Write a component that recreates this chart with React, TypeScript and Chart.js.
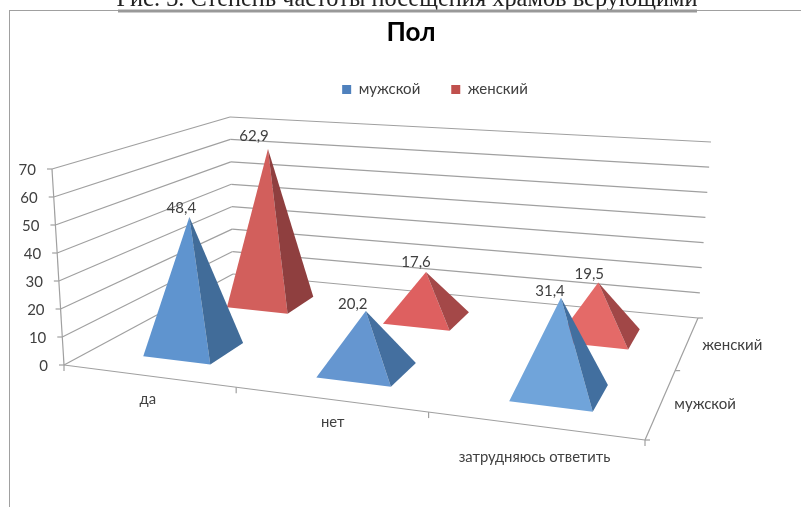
import React, { useEffect, useRef } from "react";
import { Chart, registerables } from "chart.js";

Chart.register(...registerables);

const caption = "Рис. 3. Степень частоты посещения храмов верующими";
const chartTitle = "Пол";
const categories = ["да", "нет", "затрудняюсь ответить"];
const seriesNames = ["мужской", "женский"];
const male = [48.4, 20.2, 31.4];
const female = [62.9, 17.6, 19.5];

const FONT = "Lato, 'Noto Sans', sans-serif";
const TEXT = "#404040";
const LINE = "#a0a0a0";
const legendColors = ["#4f81bd", "#c0504d"];
const frontFaces = [
  ["#5f94cf", "#6596d0", "#70a4da"],
  ["#d25f5c", "#de6060", "#e46a68"],
];
const sideFaces = [
  ["#416c99", "#446f9f", "#426f9f"],
  ["#8f3f3f", "#a44848", "#a14747"],
];
const labelOffsets = [
  [{ x: -8, y: -9 }, { x: -13, y: -7 }, { x: -11, y: -7 }],
  [{ x: -14, y: -13 }, { x: -10, y: -10 }, { x: -9, y: -8 }],
];
const catOffsets = [{ x: 0, y: 23 }, { x: 3, y: 23 }, { x: 1, y: 32 }];
const seriesOffsets = [{ x: 44, y: 1 }, { x: 45, y: 3 }];

type P = { x: number; y: number };
type Q = [P, P, P, P];

// Corners of the box's floor and ceiling, in order: front-left, front-right, back-right, back-left
const floor: Q = [
  { x: 64, y: 365 },
  { x: 645, y: 440 },
  { x: 698, y: 318 },
  { x: 233, y: 274 },
];
const ceiling: Q = [
  { x: 52, y: 169 },
  { x: 659, y: 213 },
  { x: 711, y: 142 },
  { x: 230, y: 117 },
];

function homography([p0, p1, p2, p3]: Q) {
  const dx1 = p1.x - p2.x, dx2 = p3.x - p2.x, sx = p0.x - p1.x + p2.x - p3.x;
  const dy1 = p1.y - p2.y, dy2 = p3.y - p2.y, sy = p0.y - p1.y + p2.y - p3.y;
  const den = dx1 * dy2 - dx2 * dy1;
  const g = (sx * dy2 - dx2 * sy) / den;
  const h = (dx1 * sy - sx * dy1) / den;
  const a = p1.x - p0.x + g * p1.x, b = p3.x - p0.x + h * p3.x, c = p0.x;
  const d = p1.y - p0.y + g * p1.y, e = p3.y - p0.y + h * p3.y, f = p0.y;
  return (u: number, v: number): P => {
    const w = g * u + h * v + 1;
    return { x: (a * u + b * v + c) / w, y: (d * u + e * v + f) / w };
  };
}
const floorMap = homography(floor);
const ceilMap = homography(ceiling);
// u, v, w are each fractions 0..1 of the x, depth and value scales
const project = (u: number, v: number, w: number): P => {
  const a = floorMap(u, v), b = ceilMap(u, v);
  return { x: a.x + (b.x - a.x) * w, y: a.y + (b.y - a.y) * w };
};

// Half sizes of a pyramid's base and the small shift of its centre, as fractions of the floor
const BASE_U = 0.2 / 3;
const BASE_V = 0.0985;
const SHIFT_U = 0.006;
const SHIFT_V = -0.0165;

const pyramid3d = {
  id: "pyramid3d",
  afterLayout(chart: any) {
    const place = (box: any, cx: number, cy: number) => {
      const w = box.right - box.left, h = box.bottom - box.top;
      box.left = cx - w / 2; box.right = cx + w / 2;
      box.top = cy - h / 2; box.bottom = cy + h / 2;
    };
    place(chart.titleBlock, 411, 33);
    place(chart.legend, 435, 79);
  },
  beforeDatasetsDraw(chart: any) {
    const ctx: CanvasRenderingContext2D = chart.ctx;
    const { x: xs, y: ys, z: zs } = chart.scales;
    const frac = (s: any, px: number) => (px - s.left) / (s.right - s.left);
    const wOf = (val: number) => (ys.bottom - ys.getPixelForValue(val)) / (ys.bottom - ys.top);
    const line = (a: P, b: P, color = LINE, width = 1.2) => {
      ctx.strokeStyle = color; ctx.lineWidth = width;
      ctx.beginPath(); ctx.moveTo(a.x, a.y); ctx.lineTo(b.x, b.y); ctx.stroke();
    };
    const text = (s: string, x: number, y: number, font: string, align: CanvasTextAlign = "center", color = TEXT) => {
      ctx.font = font; ctx.fillStyle = color; ctx.textAlign = align; ctx.textBaseline = "middle";
      ctx.fillText(s, x, y);
    };

    ctx.save();
    // document caption and frame behind the chart
    ctx.textBaseline = "alphabetic";
    ctx.font = "24.4px 'Liberation Serif', serif";
    ctx.fillStyle = "#222222"; ctx.textAlign = "center";
    ctx.fillText(caption, 407, 6);
    line({ x: 9, y: 10.5 }, { x: 801, y: 10.5 }, "#a0a0a0", 1);
    line({ x: 118, y: 11 }, { x: 697, y: 11 }, "#999999", 3);
    line({ x: 9.5, y: 10 }, { x: 9.5, y: 507 }, "#a0a0a0", 1);

    // walls: value gridlines and tick labels
    ys.ticks.forEach((t: any) => {
      const w = wOf(t.value);
      const front = project(0, 0, w), back = project(0, 1, w), right = project(1, 1, w);
      line(front, back);
      line(back, right);
      line(front, { x: front.x - 5, y: front.y });
      text(String(t.value), front.x - 16, front.y + 1, "15px " + FONT, "right");
    });
    line(project(0, 0, 0), project(0, 0, 1));

    // floor edges, category ticks and labels
    line(project(0, 0, 0), project(1, 0, 0));
    line(project(1, 0, 0), project(1, 1, 0));
    const nCat = categories.length;
    for (let i = 0; i <= nCat; i++) {
      const p = project(i / nCat, 0, 0);
      line(p, { x: p.x, y: p.y + 6 });
    }
    categories.forEach((c, i) => {
      const p = project(frac(xs, xs.getPixelForValue(i)), 0, 0);
      text(c, p.x + catOffsets[i].x, p.y + catOffsets[i].y, "14.8px " + FONT);
    });
    // depth ticks and labels
    const nSer = seriesNames.length;
    for (let j = 0; j <= nSer; j++) {
      const p = project(1, j / nSer, 0);
      line(p, { x: p.x + 5, y: p.y });
    }
    seriesNames.forEach((s, j) => {
      const p = project(1, frac(zs, zs.getPixelForValue(j)), 0);
      text(s, p.x + seriesOffsets[j].x, p.y + seriesOffsets[j].y, "15px " + FONT);
    });

    // pyramids, back row first
    const pending: (() => void)[] = [];
    for (let ds = chart.data.datasets.length - 1; ds >= 0; ds--) {
      chart.data.datasets[ds].data.forEach((val: number, i: number) => {
        const u = frac(xs, xs.getPixelForValue(i));
        const v = frac(zs, zs.getPixelForValue(ds));
        const cu = u + SHIFT_U, cv = v + SHIFT_V;
        const fl = project(cu - BASE_U, cv - BASE_V, 0);
        const fr = project(cu + BASE_U, cv - BASE_V, 0);
        const br = project(cu + BASE_U, cv + BASE_V, 0);
        const apex = project(u, v, wOf(val));
        const face = (a: P, b: P, c: P, color: string) => {
          ctx.fillStyle = color;
          ctx.beginPath(); ctx.moveTo(a.x, a.y); ctx.lineTo(b.x, b.y); ctx.lineTo(c.x, c.y); ctx.closePath(); ctx.fill();
        };
        face(fl, fr, apex, frontFaces[ds][i]);
        face(fr, br, apex, sideFaces[ds][i]);
        const off = labelOffsets[ds][i];
        pending.push(() => text(String(val).replace(".", ","), apex.x + off.x, apex.y + off.y, "15px " + FONT));
      });
    }
    pending.forEach((f) => f());
    ctx.restore();
    return false;
  },
};

export default function App() {
  const ref = useRef<HTMLCanvasElement>(null);
  useEffect(() => {
    const chart = new Chart(ref.current!, {
      type: "bar",
      data: {
        labels: categories,
        datasets: [
          { label: seriesNames[0], data: male, backgroundColor: legendColors[0] },
          { label: seriesNames[1], data: female, backgroundColor: legendColors[1] },
        ],
      },
      options: {
        responsive: false,
        animation: false,
        scales: {
          x: { type: "category", display: false },
          y: { type: "linear", min: 0, max: 70, ticks: { stepSize: 10 }, display: false },
          z: { type: "category", axis: "x", labels: seriesNames, offset: true, display: false },
        },
        plugins: {
          tooltip: { enabled: false },
          title: {
            display: true,
            text: chartTitle,
            color: "#000000",
            padding: 0,
            font: { family: FONT, size: 26, weight: "bold" },
          },
          legend: {
            display: true,
            labels: {
              boxWidth: 9,
              boxHeight: 9,
              padding: 31,
              color: TEXT,
              font: { family: FONT, size: 15 },
            },
          },
        },
      } as any,
      plugins: [pyramid3d],
    });
    return () => chart.destroy();
  }, []);
  return (
    <canvas
      ref={ref}
      width={801}
      height={507}
      style={{ position: "absolute", left: 0, top: 0, display: "block" }}
    />
  );
}
